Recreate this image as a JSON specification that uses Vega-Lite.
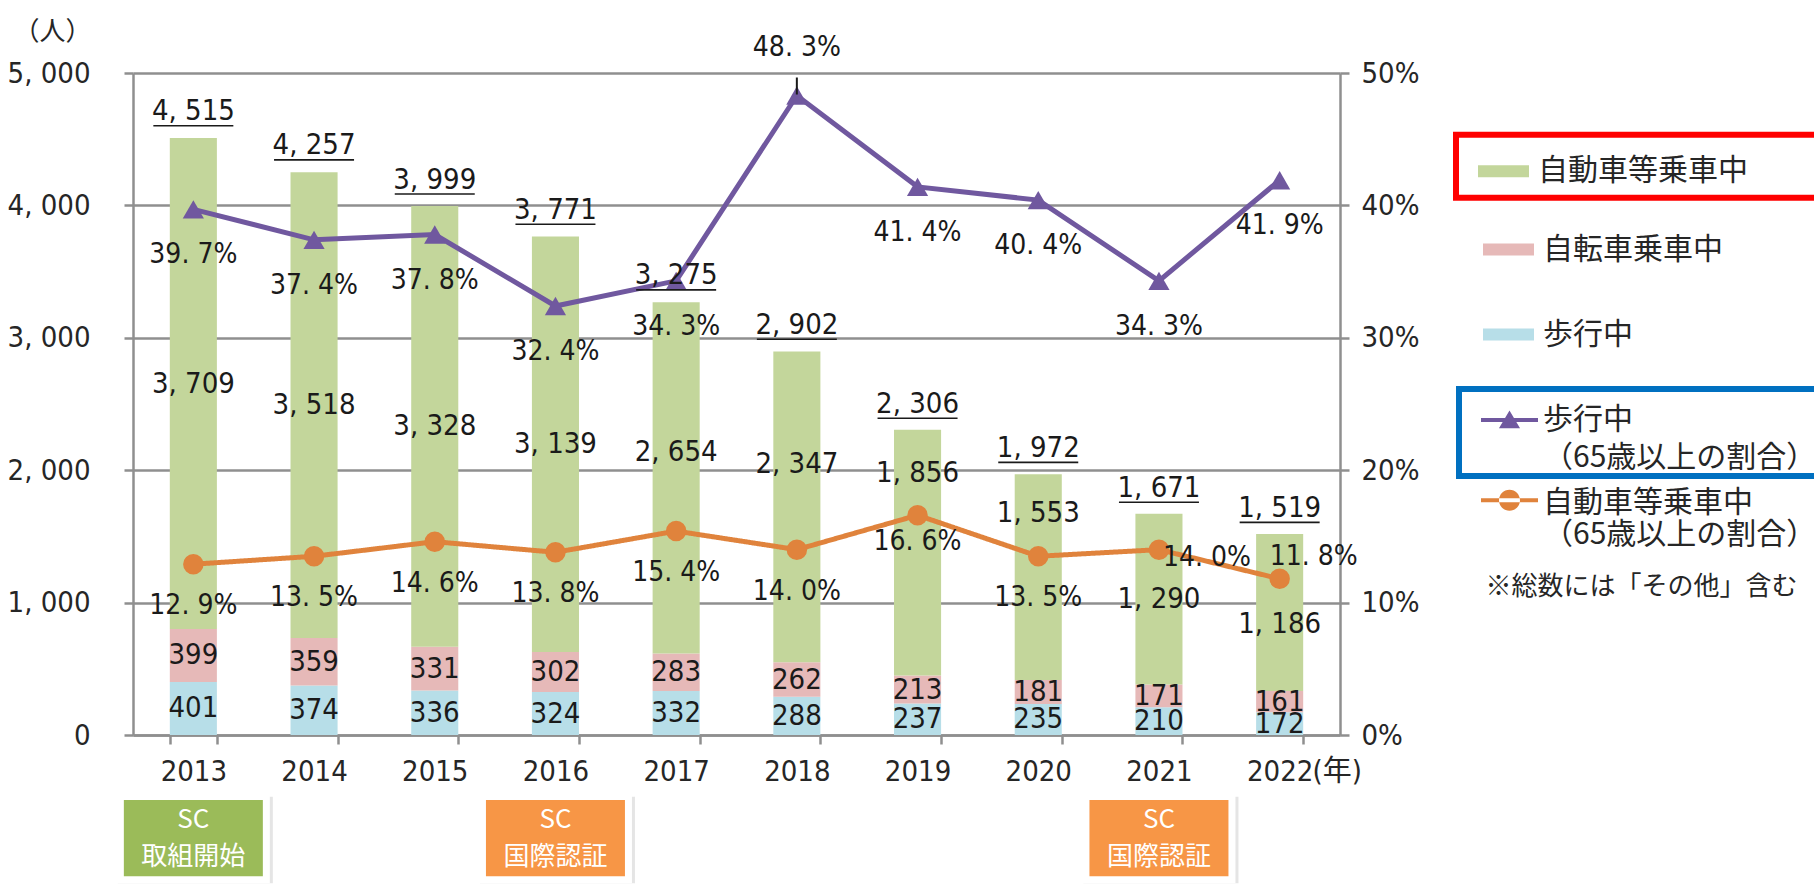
{
  "$schema": "https://vega.github.io/schema/vega-lite/v6.json",
  "width": 1207,
  "height": 662,
  "autosize": {"type": "none"},
  "padding": {"left": 133, "top": 73, "right": 474, "bottom": 152},
  "background": "white",
  "config": {
    "view": {"stroke": null},
    "locale": {"number": {"decimal": ". ", "thousands": ", ", "grouping": [3], "currency": ["", ""]}}
  },
  "datasets": {
    "seg": [
      {"year": 2013, "mode": "歩行中", "count": 401}, {"year": 2013, "mode": "自転車乗車中", "count": 399}, {"year": 2013, "mode": "自動車等乗車中", "count": 3709},
      {"year": 2014, "mode": "歩行中", "count": 374}, {"year": 2014, "mode": "自転車乗車中", "count": 359}, {"year": 2014, "mode": "自動車等乗車中", "count": 3518},
      {"year": 2015, "mode": "歩行中", "count": 336}, {"year": 2015, "mode": "自転車乗車中", "count": 331}, {"year": 2015, "mode": "自動車等乗車中", "count": 3328},
      {"year": 2016, "mode": "歩行中", "count": 324}, {"year": 2016, "mode": "自転車乗車中", "count": 302}, {"year": 2016, "mode": "自動車等乗車中", "count": 3139},
      {"year": 2017, "mode": "歩行中", "count": 332}, {"year": 2017, "mode": "自転車乗車中", "count": 283}, {"year": 2017, "mode": "自動車等乗車中", "count": 2654},
      {"year": 2018, "mode": "歩行中", "count": 288}, {"year": 2018, "mode": "自転車乗車中", "count": 262}, {"year": 2018, "mode": "自動車等乗車中", "count": 2347},
      {"year": 2019, "mode": "歩行中", "count": 237}, {"year": 2019, "mode": "自転車乗車中", "count": 213}, {"year": 2019, "mode": "自動車等乗車中", "count": 1856},
      {"year": 2020, "mode": "歩行中", "count": 235}, {"year": 2020, "mode": "自転車乗車中", "count": 181}, {"year": 2020, "mode": "自動車等乗車中", "count": 1553},
      {"year": 2021, "mode": "歩行中", "count": 210}, {"year": 2021, "mode": "自転車乗車中", "count": 171}, {"year": 2021, "mode": "自動車等乗車中", "count": 1290},
      {"year": 2022, "mode": "歩行中", "count": 172}, {"year": 2022, "mode": "自転車乗車中", "count": 161}, {"year": 2022, "mode": "自動車等乗車中", "count": 1186}
    ],
    "yr": [
      {"year": 2013, "total": 4515, "walkPct": 0.397, "carPct": 0.129},
      {"year": 2014, "total": 4257, "walkPct": 0.374, "carPct": 0.135},
      {"year": 2015, "total": 3999, "walkPct": 0.378, "carPct": 0.146},
      {"year": 2016, "total": 3771, "walkPct": 0.324, "carPct": 0.138},
      {"year": 2017, "total": 3275, "walkPct": 0.343, "carPct": 0.154},
      {"year": 2018, "total": 2902, "walkPct": 0.483, "carPct": 0.140},
      {"year": 2019, "total": 2306, "walkPct": 0.414, "carPct": 0.166},
      {"year": 2020, "total": 1972, "walkPct": 0.404, "carPct": 0.135},
      {"year": 2021, "total": 1671, "walkPct": 0.343, "carPct": 0.140},
      {"year": 2022, "total": 1519, "walkPct": 0.419, "carPct": 0.118}
    ],
    "sc": [
      {"year": 2013, "label": "SC\n取組開始", "kind": "取組開始"},
      {"year": 2016, "label": "SC\n国際認証", "kind": "国際認証"},
      {"year": 2021, "label": "SC\n国際認証", "kind": "国際認証"}
    ]
  },
  "encoding": {
    "x": {
      "field": "year", "type": "ordinal",
      "scale": {"domain": [2013, 2014, 2015, 2016, 2017, 2018, 2019, 2020, 2021, 2022], "paddingInner": 0.61, "paddingOuter": 0.305},
      "axis": {
        "title": "(年)", "titleX": 1179, "titleY": 36, "titleAlign": "left", "titleBaseline": "middle", "titleAnchor": "start",
        "titleFont": "DejaVu Sans Condensed, Noto Sans CJK JP, sans-serif", "titleFontSize": 29, "titleFontWeight": "normal", "titleColor": "#262626",
        "labelAngle": 0, "labelFont": "DejaVu Sans Condensed, Liberation Sans Narrow, sans-serif", "labelFontSize": 29, "labelColor": "#262626",
        "labelBaseline": "middle", "labelPadding": 27,
        "tickBand": "extent", "tickSize": 9, "tickWidth": 2.5, "tickColor": "#8f8f8f",
        "domainColor": "#8f8f8f", "domainWidth": 2.5, "grid": false
      }
    }
  },
  "resolve": {"scale": {"y": "independent"}},
  "layer": [
    {
      "data": {"name": "seg"},
      "transform": [{"window": [{"op": "row_number", "as": "stackOrder"}]}],
      "mark": {"type": "bar"},
      "encoding": {
        "y": {
          "field": "count", "type": "quantitative", "stack": "zero",
          "scale": {"domain": [0, 5000], "nice": false},
          "axis": {
            "title": "（人）", "titleAngle": 0, "titleX": -81, "titleY": -42, "titleAlign": "center", "titleBaseline": "middle",
            "titleFont": "Noto Sans CJK JP, sans-serif", "titleFontSize": 26, "titleFontWeight": "normal", "titleColor": "#262626",
            "values": [0, 1000, 2000, 3000, 4000, 5000], "format": ",.0f",
            "labelFont": "DejaVu Sans Condensed, Liberation Sans Narrow, sans-serif", "labelFontSize": 29, "labelColor": "#262626", "labelPadding": 34,
            "tickSize": 9, "tickWidth": 2.5, "tickColor": "#8f8f8f",
            "domainColor": "#8f8f8f", "domainWidth": 2.5,
            "grid": true, "gridColor": "#8f8f8f", "gridWidth": 2.5
          }
        },
        "color": {
          "field": "mode", "type": "nominal",
          "scale": {"domain": ["自動車等乗車中", "自転車乗車中", "歩行中"], "range": ["#C3D69B", "#E6B9B8", "#B7DEE8"]},
          "legend": {
            "orient": "none", "legendX": 1339, "legendY": 151, "title": null, "padding": 0,
            "values": ["自転車乗車中", "歩行中"],
            "symbolType": "M-1,-0.235H1V0.235H-1Z", "symbolSize": 2601, "symbolOffset": 11, "symbolStrokeWidth": 0, "symbolOpacity": 1,
            "labelOffset": 9, "labelFont": "Noto Sans CJK JP, sans-serif", "labelFontSize": 30, "labelColor": "#262626", "labelLimit": 500,
            "rowPadding": 44
          }
        },
        "order": {"field": "stackOrder", "type": "quantitative", "sort": "ascending"}
      }
    },
    {
      "data": {"name": "yr"},
      "layer": [
        {
          "mark": {"type": "line", "strokeWidth": 5, "color": "#70589F"},
          "encoding": {
            "y": {"field": "walkPct", "type": "quantitative", "scale": {"domain": [0, 0.5], "nice": false},
              "axis": {"orient": "right", "title": null, "values": [0, 0.1, 0.2, 0.3, 0.4, 0.5], "format": ".0%",
                "labelFont": "DejaVu Sans Condensed, Liberation Sans Narrow, sans-serif", "labelFontSize": 29, "labelColor": "#262626", "labelPadding": 12,
                "tickSize": 9, "tickWidth": 2.5, "tickColor": "#8f8f8f", "domainColor": "#8f8f8f", "domainWidth": 2.5, "grid": false}},
            "stroke": {
              "datum": "歩行中（65歳以上の割合）",
              "scale": {"range": ["#70589F"]},
              "legend": {
                "orient": "none", "legendX": 1326, "legendY": 316, "title": null, "padding": 2.5,
                "symbolType": "M-1,-0.07H1V0.07H-1Z M-0.37,0.29L0,-0.33L0.37,0.29Z", "symbolSize": 3249, "symbolOffset": 19.5,
                "symbolStrokeWidth": 0, "symbolFillColor": "#70589F", "symbolOpacity": 1,
                "labelOffset": 5, "labelFont": "Noto Sans CJK JP, sans-serif", "labelFontSize": 30, "labelColor": "#262626", "labelLimit": 500,
                "labelExpr": "[slice(datum.label, 0, indexof(datum.label, '（')), slice(datum.label, indexof(datum.label, '（'))]",
                "strokeColor": "#0070C0",
                "encode": {
                  "legend": {"update": {"stroke": {"value": "#0070C0"}, "strokeWidth": {"value": 6}}},
                  "symbols": {"update": {"fill": {"value": "#70589F"}, "stroke": {"value": "transparent"}, "opacity": {"value": 1}}},
                  "labels": {"update": {"lineHeight": {"value": 38}}}
                }
              }
            }
          }
        },
        {
          "mark": {"type": "line", "strokeWidth": 5, "color": "#E0833C"},
          "encoding": {
            "y": {"field": "carPct", "type": "quantitative", "scale": {"domain": [0, 0.5], "nice": false},
              "axis": {"orient": "right", "title": null, "values": [0, 0.1, 0.2, 0.3, 0.4, 0.5], "format": ".0%",
                "labelFont": "DejaVu Sans Condensed, Liberation Sans Narrow, sans-serif", "labelFontSize": 29, "labelColor": "#262626", "labelPadding": 12,
                "tickSize": 9, "tickWidth": 2.5, "tickColor": "#8f8f8f", "domainColor": "#8f8f8f", "domainWidth": 2.5, "grid": false}},
            "strokeDash": {
              "datum": "自動車等乗車中（65歳以上の割合）",
              "scale": {"range": [[1, 0]]},
              "legend": {
                "orient": "none", "legendX": 1333.5, "legendY": 401.3, "padding": 0,
                "title": "※総数には「その他」含む", "titleOrient": "bottom", "titleAnchor": "middle", "titlePadding": 24,
                "titleFont": "Noto Sans CJK JP, sans-serif", "titleFontSize": 26, "titleFontWeight": "normal", "titleColor": "#262626", "titleLimit": 500,
                "symbolType": "M-1,-0.16H1V-0.02H-1Z M-0.368,-0.09A0.368,0.368 0 1,0 0.368,-0.09A0.368,0.368 0 1,0 -0.368,-0.09Z", "symbolSize": 3249, "symbolOffset": 14.5,
                "symbolStrokeWidth": 0, "symbolFillColor": "#E0833C", "symbolOpacity": 1,
                "labelOffset": 5, "labelFont": "Noto Sans CJK JP, sans-serif", "labelFontSize": 30, "labelColor": "#262626", "labelLimit": 500,
                "labelExpr": "[slice(datum.label, 0, indexof(datum.label, '（')), slice(datum.label, indexof(datum.label, '（'))]",
                "encode": {
                  "symbols": {"update": {"fill": {"value": "#E0833C"}, "stroke": {"value": "transparent"}, "opacity": {"value": 1}}},
                  "labels": {"update": {"lineHeight": {"value": 38}}}
                }
              }
            }
          }
        },
        {
          "mark": {"type": "point", "shape": "triangle-up", "filled": true, "size": 450, "color": "#70589F", "opacity": 1},
          "encoding": {
            "y": {"field": "walkPct", "type": "quantitative", "scale": {"domain": [0, 0.5], "nice": false},
              "axis": {"orient": "right", "title": null, "values": [0, 0.1, 0.2, 0.3, 0.4, 0.5], "format": ".0%",
                "labelFont": "DejaVu Sans Condensed, Liberation Sans Narrow, sans-serif", "labelFontSize": 29, "labelColor": "#262626", "labelPadding": 12,
                "tickSize": 9, "tickWidth": 2.5, "tickColor": "#8f8f8f", "domainColor": "#8f8f8f", "domainWidth": 2.5, "grid": false}}
          }
        },
        {
          "mark": {"type": "circle", "size": 420, "color": "#E0833C", "opacity": 1},
          "encoding": {
            "y": {"field": "carPct", "type": "quantitative", "scale": {"domain": [0, 0.5], "nice": false},
              "axis": {"orient": "right", "title": null, "values": [0, 0.1, 0.2, 0.3, 0.4, 0.5], "format": ".0%",
                "labelFont": "DejaVu Sans Condensed, Liberation Sans Narrow, sans-serif", "labelFontSize": 29, "labelColor": "#262626", "labelPadding": 12,
                "tickSize": 9, "tickWidth": 2.5, "tickColor": "#8f8f8f", "domainColor": "#8f8f8f", "domainWidth": 2.5, "grid": false}}
          }
        }
      ]
    },
    {
      "layer": [
        {
          "data": {"name": "seg"},
          "transform": [{"window": [{"op": "row_number", "as": "stackOrder"}]}],
          "mark": {"type": "text", "font": "DejaVu Sans Condensed, Liberation Sans Narrow, sans-serif", "fontSize": 29, "color": "#1a1a1a", "baseline": "middle",
            "dy": {"expr": "datum.mode === '自動車等乗車中' ? (datum.year === 2017 ? -26 : datum.year === 2018 ? -43 : datum.year === 2019 ? -80 : datum.year === 2020 ? -64 : datum.year === 2022 ? 12 : 0) : 0"}},
          "encoding": {
            "y": {"field": "count", "type": "quantitative", "stack": "zero", "bandPosition": 0.5, "scale": {"domain": [0, 5000], "nice": false}, "axis": null},
            "detail": {"field": "mode", "type": "nominal"},
            "order": {"field": "stackOrder", "type": "quantitative", "sort": "ascending"},
            "text": {"field": "count", "type": "quantitative", "format": ","}
          }
        },
        {
          "data": {"name": "yr"},
          "mark": {"type": "text", "font": "DejaVu Sans Condensed, Liberation Sans Narrow, sans-serif", "fontSize": 29, "color": "#1a1a1a", "baseline": "alphabetic", "dy": -17},
          "encoding": {
            "y": {"field": "total", "type": "quantitative", "scale": {"domain": [0, 5000], "nice": false}, "axis": null},
            "text": {"field": "total", "type": "quantitative", "format": ","}
          }
        },
        {
          "data": {"name": "yr"},
          "mark": {"type": "tick", "size": 80, "thickness": 1.6, "color": "#1a1a1a", "opacity": 1, "yOffset": -11.5},
          "encoding": {
            "y": {"field": "total", "type": "quantitative", "scale": {"domain": [0, 5000], "nice": false}, "axis": null}
          }
        },
        {
          "data": {"name": "sc"},
          "mark": {"type": "bar", "width": 155, "color": "#d4d4d4", "opacity": 0.6, "xOffset": 2, "yOffset": 4},
          "encoding": {
            "y": {"datum": -436, "type": "quantitative", "scale": {"domain": [0, 5000], "nice": false}, "axis": null},
            "y2": {"datum": -1119}
          }
        },
        {
          "data": {"name": "sc"},
          "mark": {"type": "bar", "width": 153, "color": "#ffffff"},
          "encoding": {
            "y": {"datum": -436, "type": "quantitative", "scale": {"domain": [0, 5000], "nice": false}, "axis": null},
            "y2": {"datum": -1119}
          }
        },
        {
          "data": {"name": "sc"},
          "mark": {"type": "bar", "width": 139},
          "encoding": {
            "y": {"datum": -491, "type": "quantitative", "scale": {"domain": [0, 5000], "nice": false}, "axis": null},
            "y2": {"datum": -1066},
            "color": {"condition": {"test": "datum.kind === '取組開始'", "value": "#9BBB59"}, "value": "#F79646"}
          }
        },
        {
          "data": {"name": "sc"},
          "mark": {"type": "text", "font": "Noto Sans CJK JP, sans-serif", "fontSize": 26, "color": "#ffffff", "baseline": "middle", "lineBreak": "\n", "lineHeight": 37},
          "encoding": {
            "y": {"datum": -642, "type": "quantitative", "scale": {"domain": [0, 5000], "nice": false}, "axis": null},
            "text": {"field": "label", "type": "nominal"}
          }
        },
        {
          "data": {"name": "yr"},
          "mark": {"type": "square", "opacity": 0, "size": 10},
          "encoding": {
            "y": {"field": "total", "type": "quantitative", "scale": {"domain": [0, 5000], "nice": false}, "axis": null},
            "fill": {
              "datum": "自動車等乗車中",
              "scale": {"range": ["#C3D69B"]},
              "legend": {
                "orient": "none", "legendX": 1323, "legendY": 61.7, "title": null, "padding": 11,
                "symbolType": "M-1,-0.235H1V0.235H-1Z M14,0", "symbolSize": 2601, "symbolOffset": 11, "symbolStrokeWidth": 0, "symbolOpacity": 1,
                "labelOffset": 9, "labelFont": "Noto Sans CJK JP, sans-serif", "labelFontSize": 30, "labelColor": "#262626", "labelLimit": 500,
                "strokeColor": "#FF0000",
                "encode": {
                  "legend": {"update": {"stroke": {"value": "#FF0000"}, "strokeWidth": {"value": 6}}},
                  "symbols": {"update": {"fill": {"value": "#C3D69B"}, "stroke": {"value": "transparent"}, "opacity": {"value": 1}}}
                }
              }
            }
          }
        }
      ]
    },
    {
      "data": {"name": "yr"},
      "layer": [
        {
          "mark": {"type": "text", "font": "DejaVu Sans Condensed, Liberation Sans Narrow, sans-serif", "fontSize": 28, "color": "#1a1a1a", "baseline": "middle",
            "dy": {"expr": "datum.year === 2018 ? -48 : 46"}},
          "encoding": {
            "y": {"field": "walkPct", "type": "quantitative", "scale": {"domain": [0, 0.5], "nice": false}, "axis": null},
            "text": {"field": "walkPct", "type": "quantitative", "format": ".1%"}
          }
        },
        {
          "transform": [{"filter": "datum.year === 2018"}],
          "mark": {"type": "rule", "color": "#1a1a1a", "strokeWidth": 2, "yOffset": -18, "y2Offset": -1},
          "encoding": {
            "y": {"field": "walkPct", "type": "quantitative", "scale": {"domain": [0, 0.5], "nice": false}, "axis": null},
            "y2": {"field": "walkPct"}
          }
        },
        {
          "mark": {"type": "text", "font": "DejaVu Sans Condensed, Liberation Sans Narrow, sans-serif", "fontSize": 28, "color": "#1a1a1a", "baseline": "middle",
            "dx": {"expr": "datum.year === 2021 ? 48 : datum.year === 2022 ? 34 : 0"},
            "dy": {"expr": "datum.year === 2019 ? 27 : datum.year === 2021 ? 8 : datum.year === 2022 ? -22 : 42"}},
          "encoding": {
            "y": {"field": "carPct", "type": "quantitative", "scale": {"domain": [0, 0.5], "nice": false}, "axis": null},
            "text": {"field": "carPct", "type": "quantitative", "format": ".1%"}
          }
        }
      ]
    }
  ]
}
